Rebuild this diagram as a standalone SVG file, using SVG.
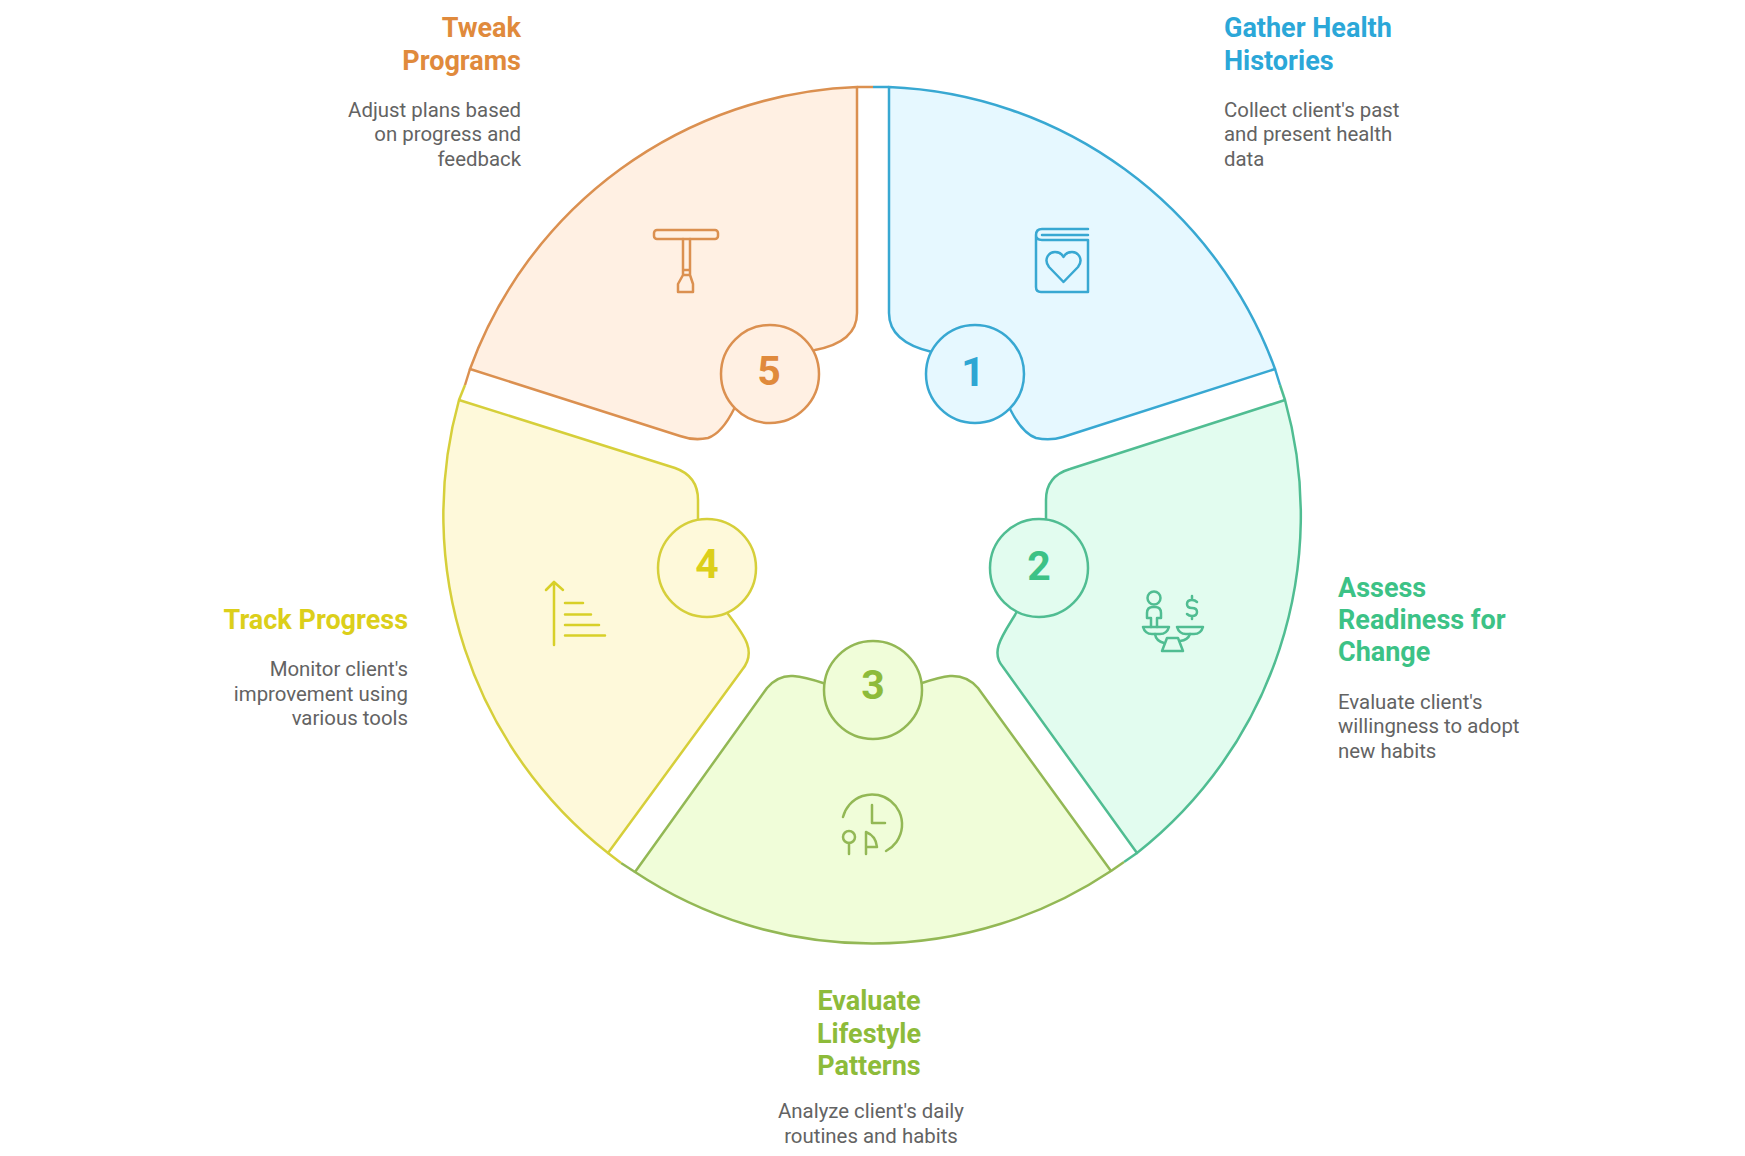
<svg xmlns="http://www.w3.org/2000/svg" width="1745" height="1156" viewBox="0 0 1745 1156">
<style>
text{font-family:Roboto,"Liberation Sans",sans-serif}
.t{font-size:27px;font-weight:700}
.d{font-size:20.400px;fill:#636363}
.n{font-size:41px;font-weight:700;text-anchor:middle}
.e{text-anchor:end}.m{text-anchor:middle}
.ic{fill:none;stroke-width:2.500;stroke-linecap:round;stroke-linejoin:round}
.s{stroke-width:2.500;stroke-linejoin:round}
.blue{fill:#e6f8ff;stroke:#38a8d2}.green{fill:#e2fcef;stroke:#50bd92}.lime{fill:#f0fdd9;stroke:#93b855}.yellow{fill:#fef9da;stroke:#d6cf3a}.orange{fill:#fff0e3;stroke:#db9050}
</style>
<rect width="1745" height="1156" fill="#fff"/>
<g id="connectors" fill="none" stroke-width="2.500">
<path d="M857 87H873" stroke="#db9050"/><path d="M873 87H889" stroke="#38a8d2"/>
<path d="M1275 369L1280 385" stroke="#38a8d2"/><path d="M1280 385L1285 400" stroke="#50bd92"/>
<path d="M1137 853L1124 862" stroke="#50bd92"/><path d="M1124 862L1111 871" stroke="#93b855"/>
<path d="M635 872L621 863" stroke="#93b855"/><path d="M621 863L608 853" stroke="#d6cf3a"/>
<path d="M459 400L465 385" stroke="#d6cf3a"/><path d="M465 385L470 369" stroke="#db9050"/>
</g>
<g id="node-1">
<path class="s blue" d="M889 87A429.500 429.500 0 0 1 1275 369L1063 437Q1050 441 1036 438Q1022 433 1010 409L975 374L932 352Q889 342 889 313Z"/>
<circle class="s blue" cx="975" cy="374" r="49"/>
<text class="n" x="973" y="386" fill="#2ea6d3">1</text>
<g class="ic" stroke="#38a8d2"><path d="M1088 229H1042Q1036 229 1036 235V287Q1036 292 1041 292H1088V240H1042Q1036 240 1036 235"/><path d="M1042 235H1088"/><path d="M1063.500 282L1049 267C1043 259 1049 252 1055 252C1059 252 1062 254 1063.500 257C1065 254 1068 252 1072 252C1078 252 1084 259 1078 267Z"/></g>
<text class="t" fill="#2ba7d8"><tspan x="1224" y="37">Gather Health</tspan><tspan x="1224" y="70">Histories</tspan></text>
<text class="d"><tspan x="1224" y="117">Collect client's past</tspan><tspan x="1224" y="141">and present health</tspan><tspan x="1224" y="166">data</tspan></text>
</g>
<g id="node-2">
<path class="s green" d="M1285 400A429.500 429.500 0 0 1 1137 853L1003 667C990 652 1002 636 1015 615L1039 568L1046 519V500Q1046 476 1070 469Z"/>
<circle class="s green" cx="1039" cy="568" r="49"/>
<text class="n" x="1039" y="580" fill="#3cc286">2</text>
<g class="ic" stroke="#50bd92"><circle cx="1154" cy="598" r="6.500"/><path d="M1147 618V613Q1147 607 1153 607H1155Q1161 607 1161 613V618H1157V627M1151 627V618H1147"/><path d="M1143 627H1169Q1167 634 1160 634H1152Q1145 634 1143 627ZM1177 627H1203Q1201 634 1194 634H1186Q1179 634 1177 627Z"/><path d="M1155 634Q1156 641 1164 643M1190 634Q1188 640 1180 641"/><path d="M1167 638H1178L1183 651H1162Z"/><path d="M1197 602Q1195 600 1192 600Q1187 600 1187 604Q1187 608 1192 608Q1197 608 1197 612Q1197 616 1192 616Q1189 616 1187 614M1192 596V600M1192 616V619"/></g>
<text class="t" fill="#3cc286"><tspan x="1338" y="597">Assess</tspan><tspan x="1338" y="629">Readiness for</tspan><tspan x="1338" y="661">Change</tspan></text>
<text class="d"><tspan x="1338" y="709">Evaluate client's</tspan><tspan x="1338" y="733">willingness to adopt</tspan><tspan x="1338" y="758">new habits</tspan></text>
</g>
<g id="node-3">
<path class="s lime" d="M1111 871A429.500 429.500 0 0 1 635 872L767 688Q778 675 793 676Q805 677 823 683L873 690L922 683Q940 677 950 676Q967 675 978 688Z"/>
<circle class="s lime" cx="873" cy="690" r="49"/>
<text class="n" x="873" y="699" fill="#8dbb3a">3</text>
<g class="ic" stroke="#93b855"><path d="M843 817A30 30 0 1 1 886 851"/><path d="M872 805V823H885"/><circle cx="849" cy="837" r="6"/><path d="M849 843V854M866 854V832Q876 836 877 847H866"/></g>
<text class="t m" fill="#8dbb3a"><tspan x="869" y="1010">Evaluate</tspan><tspan x="869" y="1043">Lifestyle</tspan><tspan x="869" y="1075">Patterns</tspan></text>
<text class="d m"><tspan x="871" y="1118">Analyze client's daily</tspan><tspan x="871" y="1143">routines and habits</tspan></text>
</g>
<g id="node-4">
<path class="s yellow" d="M608 853A429.500 429.500 0 0 1 459 400L675 468Q698 476 698 500V519L707 568L728 614C745 636 757 652 742 670Z"/>
<circle class="s yellow" cx="707" cy="568" r="49"/>
<text class="n" x="707" y="578" fill="#dccf1a">4</text>
<g class="ic" stroke="#d8d028"><path d="M554 645V582M546 590L554 582L563 590M565 603H583M565 614.500H591M565 625H599M565 635.500H605"/></g>
<text class="t e" x="408" y="629" fill="#dccf1a">Track Progress</text>
<text class="d e"><tspan x="408" y="676">Monitor client's</tspan><tspan x="408" y="701">improvement using</tspan><tspan x="408" y="725">various tools</tspan></text>
</g>
<g id="node-5">
<path class="s orange" d="M470 369A429.500 429.500 0 0 1 857 87V313Q857 342 815 350L770 374L734 409Q722 433 708 438Q694 441 680 436Z"/>
<circle class="s orange" cx="770" cy="374" r="49"/>
<text class="n" x="769" y="385" fill="#e08a3c">5</text>
<g class="ic" stroke="#db9050"><rect x="654" y="230" width="64" height="9" rx="3"/><path d="M683 239V270H690V239M683 270V275H690V270M683 275L678 284V292H693V284L690 275"/></g>
<text class="t e" fill="#e08a3c"><tspan x="521" y="37">Tweak</tspan><tspan x="521" y="70">Programs</tspan></text>
<text class="d e"><tspan x="521" y="117">Adjust plans based</tspan><tspan x="521" y="141">on progress and</tspan><tspan x="521" y="166">feedback</tspan></text>
</g>
</svg>
